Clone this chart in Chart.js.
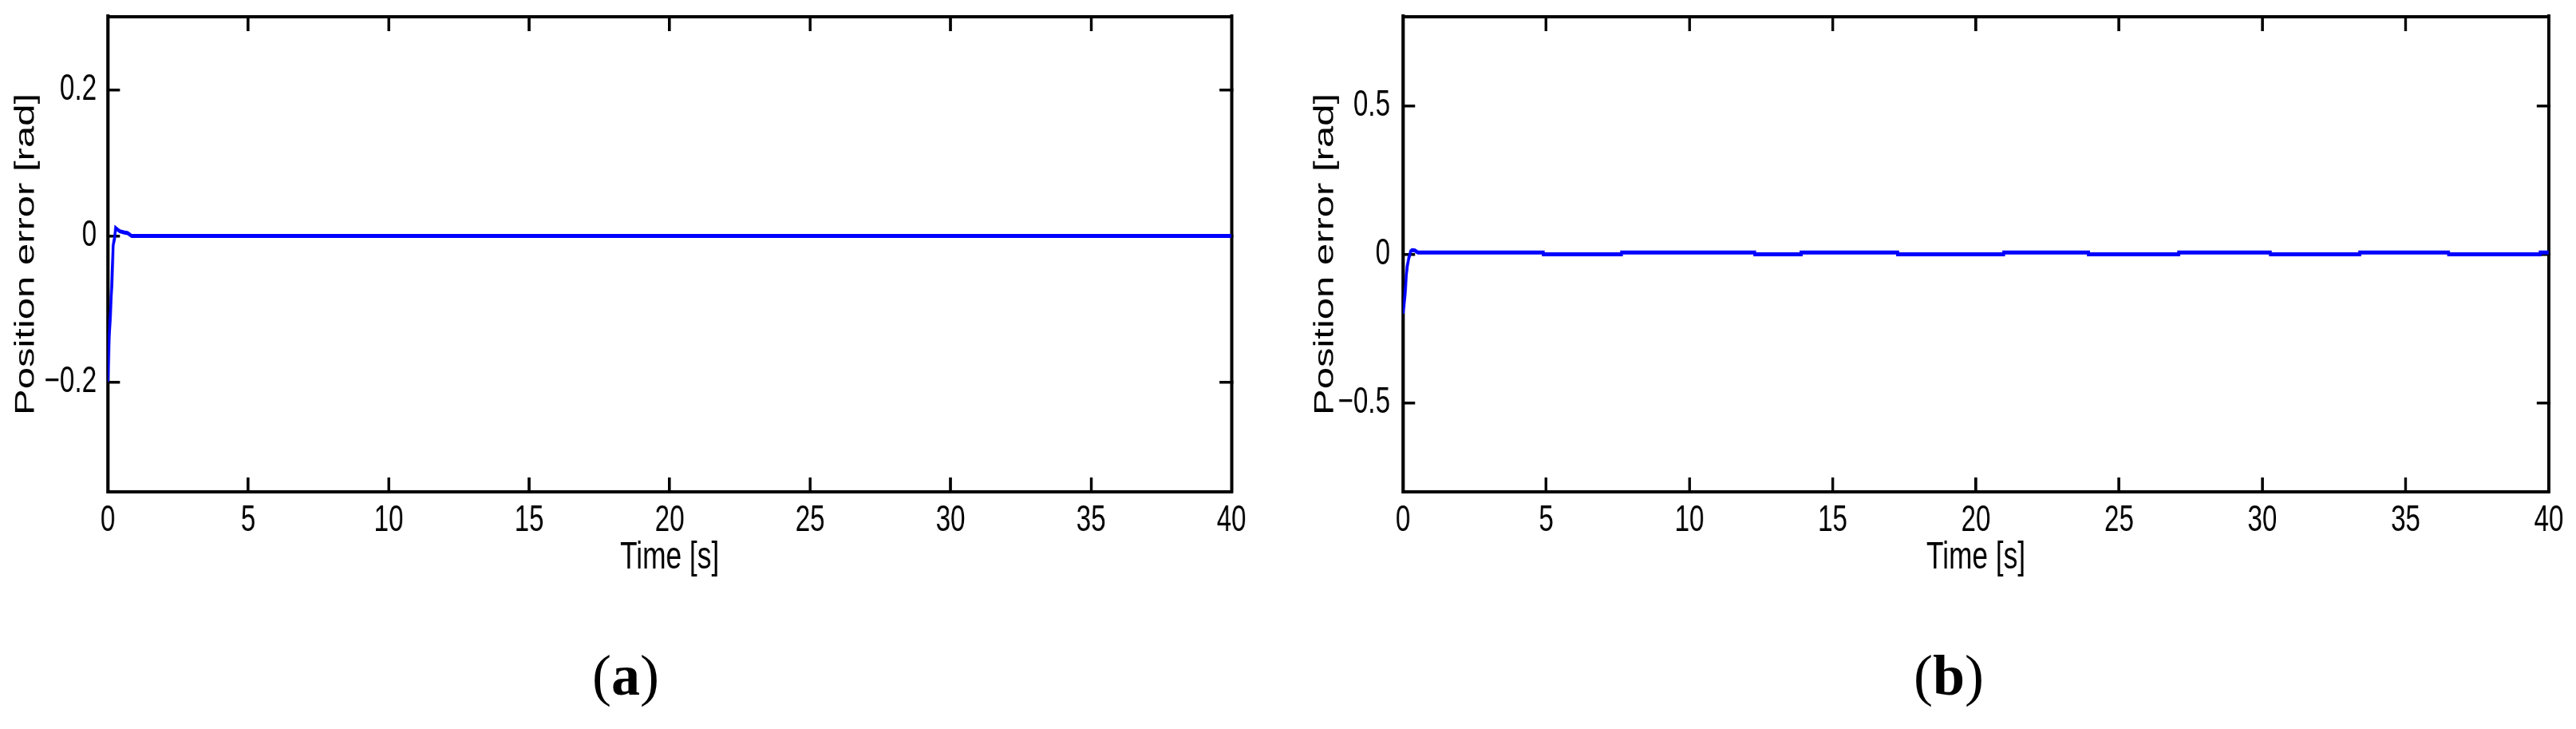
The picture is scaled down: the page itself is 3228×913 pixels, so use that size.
<!DOCTYPE html>
<html>
<head>
<meta charset="utf-8">
<script src="https://cdn.jsdelivr.net/npm/chart.js@4.4.1/dist/chart.umd.min.js"></script>
<style>
  html, body { margin:0; padding:0; background:#fff; }
  body { width:3228px; height:913px; position:relative; overflow:hidden; }
  .panel { position:absolute; top:0; transform-origin:0 0; }
  .cap { position:absolute; font-family:"Liberation Serif","DejaVu Serif",serif; font-size:72px; line-height:72px; color:#000; transform:translateX(-50%); white-space:nowrap; }
</style>
</head>
<body>
<div class="panel" id="panelA" style="left:0px"><canvas id="chartA"></canvas></div>
<div class="panel" id="panelB" style="left:1600px"><canvas id="chartB"></canvas></div>
<div class="cap" style="left:784px; top:810px">(<b>a</b>)</div>
<div class="cap" style="left:2442px; top:810px">(<b>b</b>)</div>
<script>
// the reference text is narrow, so each chart is drawn wide and squeezed in x
const SQUEEZE = 0.72;
const FONT = '"Liberation Sans", Arial, Helvetica, sans-serif';
const FSIZE = 46;
const TITLE_SIZE = 49;

const xTicks = [0, 5, 10, 15, 20, 25, 30, 35, 40];

// (a) position error, rad
const timeA = [0, 0.02, 0.05, 0.1, 0.14, 0.19, 0.24, 0.28, 0.34, 0.43, 0.57, 0.71, 0.85, 40];
const errA  = [-0.199, -0.181, -0.139, -0.101, -0.07, -0.013, -0.003, 0.011, 0.009, 0.0065, 0.005, 0.004, 0, 0];
const yTicksA = [-0.2, 0, 0.2];

// (b) position error, rad (small steps after the transient)
const timeB = [0, 0.03, 0.07, 0.12, 0.15, 0.2, 0.27, 0.32, 0.42, 0.52,
  4.9, 4.9, 7.63, 7.63, 12.28, 12.28, 13.9, 13.9, 17.27, 17.27, 20.97, 20.97,
  23.93, 23.93, 27.08, 27.08, 30.28, 30.28, 33.4, 33.4, 36.5, 36.5, 39.7, 39.7, 40];
const errB  = [-0.2, -0.18, -0.14, -0.07, -0.04, -0.015, 0.01, 0.014, 0.013, 0.006,
  0.006, 0, 0, 0.006, 0.006, 0, 0, 0.006, 0.006, 0, 0, 0.006,
  0.006, 0, 0, 0.006, 0.006, 0, 0, 0.006, 0.006, 0, 0, 0.006, 0.006];
const yTicksB = [-0.5, 0, 0.5];

function fmt(v){
  return v < 0 ? "\u2212" + Math.abs(v) : String(v);
}

function buildChart(id, panelId, o){
  const W = o.width / SQUEEZE, H = 760;
  const panel = document.getElementById(panelId);
  panel.style.transform = "scaleX(" + SQUEEZE + ")";
  const canvas = document.getElementById(id);
  canvas.width = W; canvas.height = H;
  canvas.style.width = W + "px"; canvas.style.height = H + "px";

  const yAxisW = o.plotLeft / SQUEEZE;
  const padRight = W - o.plotRight / SQUEEZE;
  const half = TITLE_SIZE * 1.2 / 2;
  const setTicks = vals => s => { s.ticks = vals.map(v => ({ value: v })); };
  const font = { family: FONT, size: FSIZE };
  const tfont = { family: FONT, size: TITLE_SIZE };

  return new Chart(canvas, {
    type: "line",
    data: {
      datasets: [{
        data: o.times.map((t, i) => ({ x: t, y: o.errs[i] })),
        borderColor: "#0000ff",
        borderWidth: 5,
        pointRadius: 0,
        tension: 0,
        xAxisID: "x",
        yAxisID: "y"
      }]
    },
    options: {
      responsive: false,
      animation: false,
      devicePixelRatio: 1,
      layout: { padding: { left: 0, top: 21, right: padRight, bottom: 0 } },
      plugins: { legend: { display: false }, tooltip: { enabled: false } },
      scales: {
        x: {
          type: "linear", position: "bottom", min: 0, max: 40,
          afterBuildTicks: setTicks(xTicks),
          grid: { drawOnChartArea: false, drawTicks: true, tickLength: -18, color: "#000", lineWidth: 3.5 / SQUEEZE },
          border: { display: true, color: "#000", width: 4 },
          ticks: { padding: 27, font, color: "#000", maxRotation: 0, autoSkip: false, callback: v => String(v) },
          title: { display: true, text: "Time [s]", color: "#000", font: tfont, padding: { top: 0, bottom: 32 } },
          afterFit: s => { s.height = 144; s.paddingLeft = 0; s.paddingRight = 0; }
        },
        x2: {
          type: "linear", position: "top", min: 0, max: 40,
          afterBuildTicks: setTicks(xTicks),
          grid: { drawOnChartArea: false, drawTicks: true, tickLength: -18, color: "#000", lineWidth: 3.5 / SQUEEZE },
          border: { display: true, color: "#000", width: 4 },
          ticks: { display: false },
          afterFit: s => { s.height = 0; s.paddingLeft = 0; s.paddingRight = 0; }
        },
        y: {
          type: "linear", position: "left", min: o.yMin, max: o.yMax,
          afterBuildTicks: setTicks(o.yTicks),
          grid: { drawOnChartArea: false, drawTicks: true, tickLength: -21, color: "#000", lineWidth: 3.5 },
          border: { display: true, color: "#000", width: 4 / SQUEEZE },
          ticks: { padding: o.labelGap / SQUEEZE + 21, font, color: "#000", autoSkip: false, callback: v => fmt(v) },
          title: { display: true, text: "Position error [rad]", color: "#000", font: tfont,
                   padding: { top: o.titleCenter / SQUEEZE - half, bottom: 0 } },
          afterFit: s => { s.width = yAxisW; s.paddingTop = 0; s.paddingBottom = 0; }
        },
        y2: {
          type: "linear", position: "right", min: o.yMin, max: o.yMax,
          afterBuildTicks: setTicks(o.yTicks),
          grid: { drawOnChartArea: false, drawTicks: true, tickLength: -21, color: "#000", lineWidth: 3.5 },
          border: { display: true, color: "#000", width: 4 / SQUEEZE },
          ticks: { display: false },
          afterFit: s => { s.width = 0; s.paddingTop = 0; s.paddingBottom = 0; }
        }
      }
    }
  });
}

buildChart("chartA", "panelA", {
  width: 1640, plotLeft: 135, plotRight: 1543, titleCenter: 33, labelGap: 14,
  times: timeA, errs: errA, yMin: -0.35, yMax: 0.3, yTicks: yTicksA
});

buildChart("chartB", "panelB", {
  width: 1628, plotLeft: 158, plotRight: 1594, titleCenter: 61, labelGap: 16,
  times: timeB, errs: errB, yMin: -0.8, yMax: 0.8, yTicks: yTicksB
});
</script>
</body>
</html>
